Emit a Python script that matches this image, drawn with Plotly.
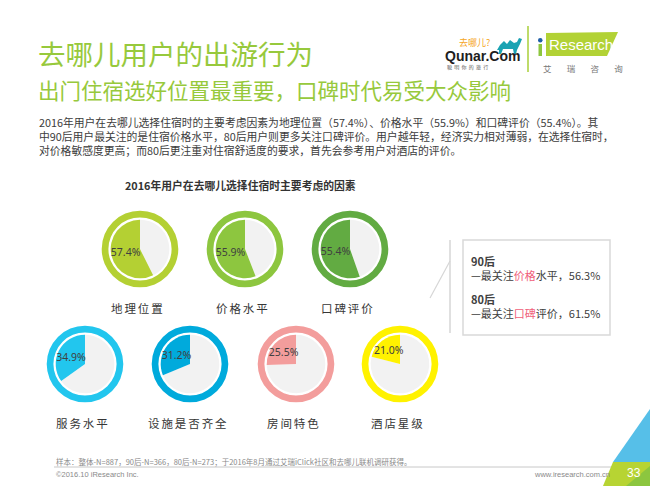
import plotly.graph_objects as go

# ---------------- data ----------------
factors = ["地理位置", "价格水平", "口碑评价", "服务水平", "设施是否齐全", "房间特色", "酒店星级"]
shares = [57.4, 55.9, 55.4, 34.9, 31.2, 25.5, 21.0]
colors = ["#b4d033", "#8dc63f", "#62ab42", "#22c6ee", "#00aadc", "#f39d9c", "#fff200"]

cohorts = ["90后", "80后"]
cohort_focus = ["价格水平", "口碑评价"]
cohort_shares = [56.3, 61.5]

# ---------------- layout helpers ----------------
W, H = 650, 486
def px(x):
    return x / W
def py(y):
    return 1 - y / H

# donut centres (pixels) and sizes
centres = [(140, 249), (245, 249), (350, 249),
           (85, 364), (190, 364), (296, 364), (400, 364)]
label_y = [308, 308, 308, 423, 423, 423, 423]
R_OUT, R_IN, R_PIE = 38.3, 31.6, 29.3
REST = "#f2f2f2"
CJK = "Noto Sans CJK SC, Microsoft YaHei, sans-serif"
GREEN = "#97c93c"

fig = go.Figure()

for name, v, c, (cx, cy) in zip(factors, shares, colors, centres):
    # outer ring
    fig.add_trace(go.Pie(
        values=[1], marker=dict(colors=[c], line=dict(width=0)),
        hole=R_IN / R_OUT, textinfo="none", hoverinfo="skip", sort=False,
        showlegend=False,
        domain=dict(x=[px(cx - R_OUT), px(cx + R_OUT)], y=[py(cy + R_OUT), py(cy - R_OUT)]),
    ))
    # inner pie: remainder first, so the share ends at 12 o'clock (sweeps counter-clockwise from the top)
    fig.add_trace(go.Pie(
        values=[100 - v, v], labels=["其他", name],
        marker=dict(colors=[REST, c], line=dict(width=0)),
        text=["", f"{v:.1f}%"], textinfo="text", textposition="inside",
        insidetextorientation="horizontal",
        textfont=dict(color="#404040", size=10.5, family="Noto Sans, Arial, sans-serif"),
        sort=False, direction="clockwise", rotation=0,
        hoverinfo="label+value", showlegend=False,
        domain=dict(x=[px(cx - R_PIE), px(cx + R_PIE)], y=[py(cy + R_PIE), py(cy - R_PIE)]),
    ))

annotations = []
def ann(text, x, y, size, color="#404040", xanchor="left", yanchor="middle", family=CJK, **kw):
    annotations.append(dict(text=text, x=px(x), y=py(y), xref="paper", yref="paper",
                            showarrow=False, xanchor=xanchor, yanchor=yanchor,
                            font=dict(size=size, color=color, family=family), **kw))

# donut labels (letter-spaced)
SP = "\u2006"
for name, (cx, cy), ly in zip(factors, centres, label_y):
    ann(SP.join(name), cx - 3, ly, 11.5, color="#363636", xanchor="center")

# titles
ann("去哪儿用户的出游行为", 36, 53, 27.5, color=GREEN)
ann("出门住宿选好位置最重要，口碑时代易受大众影响", 36, 89, 21.5, color=GREEN)

para = [
    "2016年用户在去哪儿选择住宿时的主要考虑因素为地理位置（57.4%）、价格水平（55.9%）和口碑评价（55.4%）。其",
    "中90后用户最关注的是住宿价格水平，80后用户则更多关注口碑评价。用户越年轻，经济实力相对薄弱，在选择住宿时，",
    "对价格敏感度更高；而80后更注重对住宿舒适度的要求，首先会参考用户对酒店的评价。",
]
ann("<br>".join(para), 37, 111.5, 10.8, color="#3c3c3c", yanchor="top", align="left")

ann("<b>2016年用户在去哪儿选择住宿时主要考虑的因素</b>", 240, 185, 10.8, color="#333333", xanchor="center")

# right box with cohort highlights
for i, (co, foc, val) in enumerate(zip(cohorts, cohort_focus, cohort_shares)):
    y0 = 251 + i * 38
    ann(f"<b>{co}</b><br>—最关注<span style='color:#f0607a'>{foc[:2]}</span>{foc[2:]}，{val:.1f}%",
        469, y0, 11, color="#404040", yanchor="top", align="left")

# logos
ann("去哪儿?", 457, 42.5, 9, color="#f5a623")
ann("<b>Qunar.Com</b>", 443, 56, 14, color="#1e1e1e", family="Liberation Sans, Arial, sans-serif")
ann("聪  明  你  的  旅  行", 445, 67, 5, color="#555555")
ann("Research", 547, 45, 15, color="#ffffff", family="Liberation Sans, Arial, sans-serif")
ann("艾        瑞        咨        询", 541, 68, 8.5, color="#777777")

# footer
ann("样本：整体-N=887，90后-N=366，80后-N=273；于2016年8月通过艾瑞iClick社区和去哪儿联机调研获得。",
    54, 461, 7.5, color="#8a8a8a")
ann("©2016.10 iResearch Inc.", 54, 474, 7.5, color="#8a8a8a", family="Liberation Sans, Arial, sans-serif")
ann("www.iresearch.com.cn", 612, 474, 7.5, color="#8a8a8a", xanchor="right",
    family="Liberation Sans, Arial, sans-serif")

shapes = []
def line(x0, y0, x1, y1, color, width):
    shapes.append(dict(type="line", xref="paper", yref="paper", x0=px(x0), y0=py(y0),
                       x1=px(x1), y1=py(y1), line=dict(color=color, width=width), layer="above"))
def poly(points, color):
    d = "M " + " L ".join(f"{px(a):.5f},{py(b):.5f}" for a, b in points) + " Z"
    shapes.append(dict(type="path", xref="paper", yref="paper", path=d,
                       fillcolor=color, line=dict(width=0), layer="above"))

# box & connector lines
shapes.append(dict(type="rect", xref="paper", yref="paper", x0=px(463), x1=px(610),
                   y0=py(335), y1=py(240), line=dict(color="#d9d9d9", width=1.5)))
line(450, 240, 450, 333, "#d6d6d6", 1.5)
line(430, 298, 450, 261, "#d6d6d6", 1.2)

# logo shapes
line(528, 26, 528, 72, "#a8cf38", 1.5)
poly([(546, 33), (618, 32), (607, 56), (546, 56)], "#b2d235")
poly([(538.5, 44), (542, 44), (542, 56), (538.5, 56)], "#8dc63f")
shapes.append(dict(type="circle", xref="paper", yref="paper", x0=px(538), x1=px(542.5),
                   y0=py(42.5), y1=py(38), fillcolor="#1f5fa8", line=dict(width=0), layer="above"))
# camel silhouette (rough)
poly([(497, 50), (500, 45), (504, 41), (507, 44), (510, 40), (514, 43), (517, 42),
      (519, 38), (522, 39), (520, 44), (517, 50), (516, 54), (514, 54), (513, 49),
      (503, 49), (501, 54), (499, 54), (499, 50)], "#1aa3b3")

# footer line & corner decoration
line(54, 467, 615, 467, "#c8c8c8", 1)
poly([(650, 409), (613, 462), (650, 462)], "#56bfe8")
poly([(613, 462), (650, 462), (650, 486), (603, 486)], "#b7d433")
poly([(626, 486), (650, 466), (650, 486)], "#8cc63f")
ann("33", 634, 473, 12, color="#ffffff", xanchor="center", family="Liberation Sans, Arial, sans-serif")

fig.update_layout(
    width=W, height=H, margin=dict(l=0, r=0, t=0, b=0),
    paper_bgcolor="#ffffff", plot_bgcolor="#ffffff",
    annotations=annotations, shapes=shapes,
    uniformtext=dict(minsize=10.5, mode="show"),
    showlegend=False,
)

fig.write_html("out.html", config={"displayModeBar": False},
               post_script="document.body.style.margin='0';document.body.style.overflow='hidden';")
